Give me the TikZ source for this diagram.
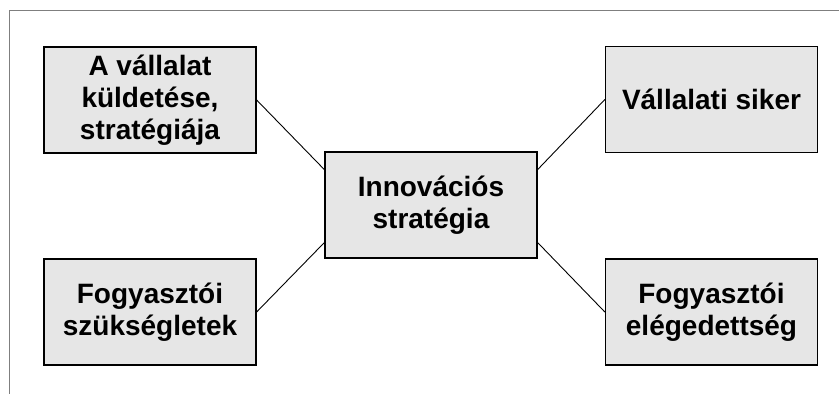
\documentclass[tikz,border=0pt]{standalone}
\usepackage{fontspec}
\setmainfont{Liberation Sans}
\usetikzlibrary{calc}
\definecolor{boxfill}{HTML}{E6E6E6}
\definecolor{framegray}{HTML}{7F7F7F}
\begin{document}
\begin{tikzpicture}[x=1pt,y=-1pt,
  box/.style={draw=black,line width=1.3pt,fill=boxfill,minimum width=212pt,minimum height=106pt,
    inner sep=0pt,align=center,font=\fontsize{28}{32}\selectfont\bfseries},
  link/.style={draw=black,line width=0.9pt}]
\useasboundingbox (0,0) rectangle (839,394);
\draw[framegray,line width=1.5pt] (9.5,394) -- (9.5,10.5) -- (839,10.5);
\node[box] (mission) at (150,100) {A vállalat\\küldetése,\\stratégiája};
\node[box] (success) at (711.5,99.5) {Vállalati siker};
\node[box] (needs) at (150,312) {Fogyasztói\\szükségletek};
\node[box] (satisf) at (711.5,312) {Fogyasztói\\elégedettség};
\node[box] (innov) at (431,205) {Innovációs\\stratégia};
\coordinate (inw) at ($(innov.north west)!0.17!(innov.south west)$);
\coordinate (isw) at ($(innov.north west)!0.85!(innov.south west)$);
\coordinate (ine) at ($(innov.north east)!0.17!(innov.south east)$);
\coordinate (ise) at ($(innov.north east)!0.85!(innov.south east)$);
\draw[link] (mission.east) -- (inw);
\draw[link] (needs.east) -- (isw);
\draw[link] (success.west) -- (ine);
\draw[link] (satisf.west) -- (ise);
\end{tikzpicture}
\end{document}
